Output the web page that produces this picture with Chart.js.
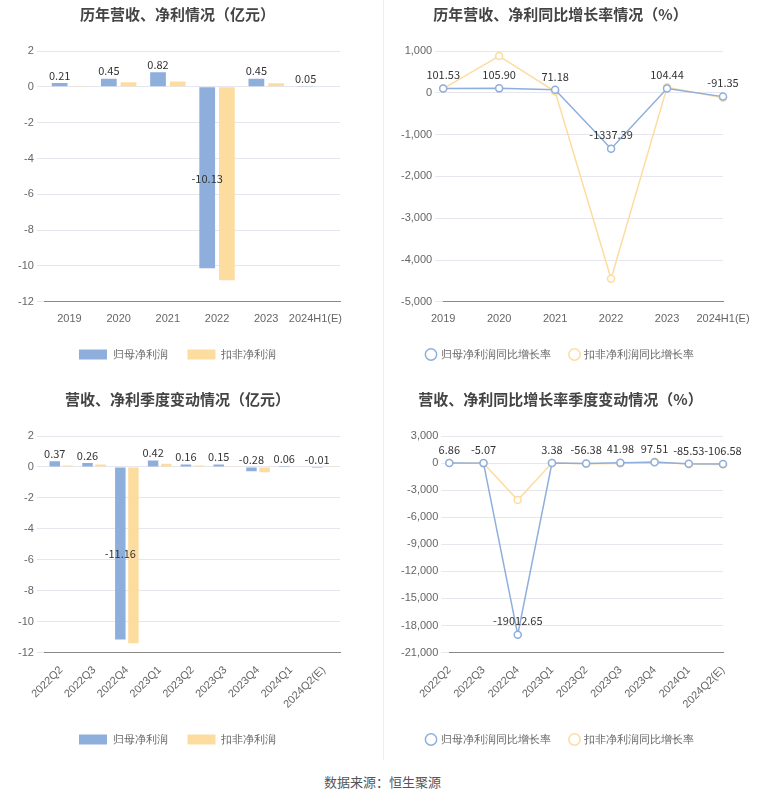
<!DOCTYPE html><html><head><meta charset="utf-8">
<script src="https://cdn.jsdelivr.net/npm/chart.js@4"></script>
<style>
body{margin:0;width:765px;height:801px;background:#fff;font-family:"Noto Sans CJK SC",sans-serif;position:relative;overflow:hidden}
.c{position:absolute;width:375px;height:375px}
#foot{position:absolute;top:772px;width:765px;text-align:center;font-size:13px;color:#555}
#div{position:absolute;left:383px;top:0;width:1px;height:760px;background:#eee}
</style></head><body>
<div class="c" style="left:5px;top:0"><canvas id="c1"></canvas></div>
<div class="c" style="left:388px;top:0"><canvas id="c2"></canvas></div>
<div class="c" style="left:5px;top:385px"><canvas id="c3"></canvas></div>
<div class="c" style="left:388px;top:385px"><canvas id="c4"></canvas></div>
<div id="div"></div>
<div id="foot">数据来源：恒生聚源</div>
<script>
const yearCats=["2019","2020","2021","2022","2023","2024H1(E)"];
const yearNet=[0.21,0.45,0.82,-10.13,0.45,0.05];
const yearDeduct=[0.05,0.25,0.3,-10.8,0.2,0.03];
const yearNetG=[101.53,105.90,71.18,-1337.39,104.44,-91.35];
const yearDeductG=[100,880,30,-4450,130,-120];
const qCats=["2022Q2","2022Q3","2022Q4","2023Q1","2023Q2","2023Q3","2023Q4","2024Q1","2024Q2(E)"];
const qNet=[0.37,0.26,-11.16,0.42,0.16,0.15,-0.28,0.06,-0.01];
const qDeduct=[0.1,0.15,-11.4,0.2,0.1,0.05,-0.35,0.03,0.01];
const qNetG=[6.86,-5.07,-19012.65,3.38,-56.38,41.98,97.51,-85.53,-106.58];
const qDeductG=[10,-10,-4100,5,-80,-60,150,-120,-150];
const BLUE='#8eaedc',YEL='#fddca0';
const labels={id:'lbl',afterDatasetsDraw(ch){const c=ch.ctx;const m=ch.getDatasetMeta(0);const d=ch.data.datasets[0].data;
c.save();c.font='11px "Noto Sans CJK SC"';c.fillStyle='#333';c.textAlign='center';c.textBaseline='bottom';
m.data.forEach((e,i)=>{let v=d[i];let t=v.toFixed(2);
let y;if(ch.config.type==='bar'){y=Math.min(e.y,e.base);if(v<-5)y=e.y-(e.y-e.base)/2+8;} else {y=e.y-6;}
c.fillText(t,e.x,y-2);});c.restore();}};
function mk(id,type,title,cats,a,b,nA,nB,ymin,ymax,step,rot){
const ds=[{label:nA,data:a,backgroundColor:BLUE,borderColor:BLUE},{label:nB,data:b,backgroundColor:YEL,borderColor:YEL}];
if(type==='line')ds.forEach(d=>{d.pointRadius=3.5;d.pointBackgroundColor='#fff';d.borderWidth=1.5;d.pointBorderWidth=1.5;});
else ds.forEach(d=>{d.barPercentage=0.8;d.categoryPercentage=0.8;});
new Chart(document.getElementById(id),{type,data:{labels:cats,datasets:ds},plugins:[labels],
options:{animation:false,responsive:true,maintainAspectRatio:false,layout:{padding:{left:10,right:40,top:0,bottom:5}},
plugins:{title:{display:true,text:title,font:{size:15,weight:'bold',family:'"Noto Sans CJK SC"'},color:'#444',padding:{top:5,bottom:28}},
legend:{position:'bottom',labels:{usePointStyle:type==='line',boxWidth:type==='line'?8:28,boxHeight:type==='line'?8:10,font:{size:11},color:'#666',padding:20},
onClick:null},tooltip:{enabled:false}},
scales:{x:{grid:{display:false},border:{color:'#888'},ticks:{color:'#666',font:{size:11},maxRotation:rot,minRotation:rot,autoSkip:false}},
y:{min:ymin,max:ymax,ticks:{stepSize:step,color:'#666',font:{size:11}},grid:{color:'#e6e6ef'},border:{display:false}}}}});}
mk('c1','bar','历年营收、净利情况（亿元）',yearCats,yearNet,yearDeduct,'归母净利润','扣非净利润',-12,2,2,0);
mk('c2','line','历年营收、净利同比增长率情况（%）',yearCats,yearNetG,yearDeductG,'归母净利润同比增长率','扣非净利润同比增长率',-5000,1000,1000,0);
mk('c3','bar','营收、净利季度变动情况（亿元）',qCats,qNet,qDeduct,'归母净利润','扣非净利润',-12,2,2,45);
mk('c4','line','营收、净利同比增长率季度变动情况（%）',qCats,qNetG,qDeductG,'归母净利润同比增长率','扣非净利润同比增长率',-21000,3000,3000,45);
</script></body></html>
